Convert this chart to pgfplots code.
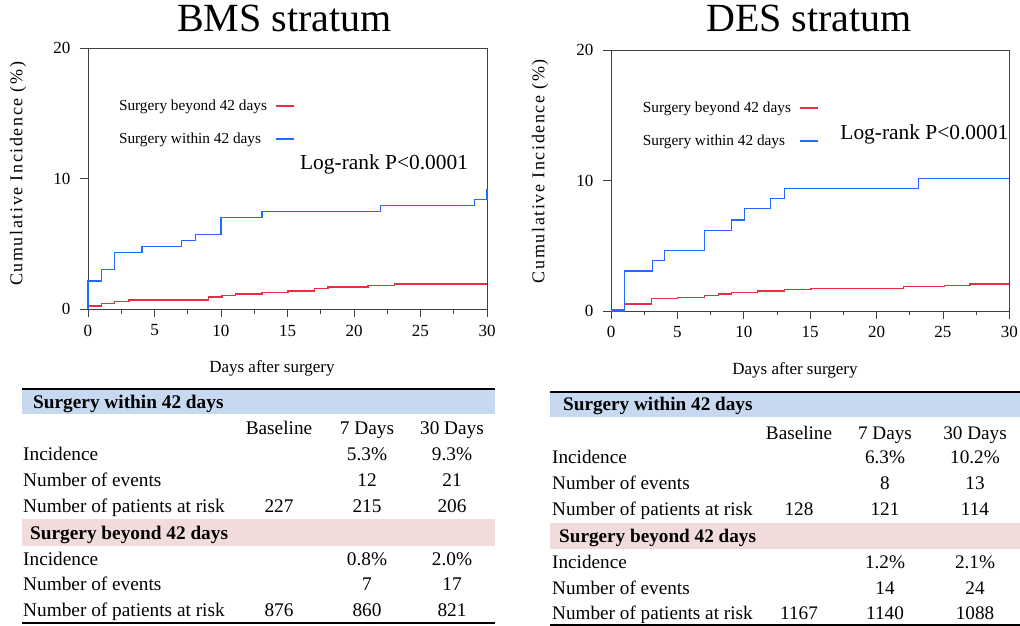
\documentclass[border=0pt]{standalone}
\usepackage{pgfplots}
\pgfplotsset{compat=1.18}
\usepackage{fontspec}
\setmainfont{Liberation Serif}
\definecolor{kmred}{RGB}{235,45,65}
\definecolor{kmblue}{RGB}{35,105,255}
\definecolor{bandblue}{RGB}{198,217,240}
\definecolor{bandpink}{RGB}{242,220,219}
\newcommand{\fs}[1]{\fontsize{#1}{#1}\selectfont}
\pgfplotsset{
  kmaxis/.style={
    scale only axis, xmin=0, xmax=30, ymin=0, ymax=20,
    xtick={0,5,...,30}, ytick={0,10,20}, minor xtick={2.5,7.5,...,27.5},
    tick pos=left, tick align=outside,
    major tick length=8pt, minor tick length=4.5pt,
    axis line style={black!75, line width=0.8pt},
    every tick/.append style={black!75, line width=0.8pt},
    tick label style={font=\fs{17}},
    yticklabel style={xshift=-6pt},
    xticklabel style={yshift=-4pt},
    /pgf/number format/assume math mode=true,
    label style={font=\fs{17}},
    title style={font=\fs{40}, anchor=base},
    clip=false,
    legend plot pos=right,
    legend cell align=left,
    legend style={draw=none, fill=none, inner sep=0pt, outer sep=0pt, font=\fs{15.3}, row sep=20.5pt, column sep=8pt, nodes={inner sep=0pt}, anchor=north west},
    legend image code/.code={\draw[#1] (0pt,0pt) -- (18pt,0pt);},
  },
  kmline/.style={line width=1.2pt, const plot mark left, mark=none},
}
\begin{document}
\begin{tikzpicture}[x=1pt,y=1pt]
\useasboundingbox (0,0) rectangle (1020,626);
% ---------------- BMS ----------------
\begin{axis}[kmaxis,
  at={(88pt,316.7pt)}, anchor=south west, width=399pt, height=261.3pt,
  title={BMS stratum}, title style={at={(axis description cs:0.4925,1.042)}},
  xlabel={Days after surgery}, xlabel style={at={(axis description cs:0.461,-0.2426)}, anchor=base},
  ylabel={\addfontfeature{LetterSpace=9}Cumulative Incidence (\%)}, ylabel style={at={(axis description cs:-0.1754,0.518)}, anchor=center, font=\fs{18}},
  legend style={at={(axis description cs:0.0777,0.801)}},
]
\addlegendimage{color=kmred, line width=1.8pt}
\addlegendentry{Surgery beyond 42 days}
\addlegendimage{color=kmblue, line width=1.8pt}
\addlegendentry{Surgery within 42 days}
\addplot[kmline, color=kmred, forget plot] coordinates {(0,0) (0,0.25) (1,0.46) (2,0.58) (3.08,0.71) (9.07,0.94) (10.07,1.07) (11.08,1.17) (13.08,1.30) (15.04,1.40) (17.04,1.61) (18.05,1.71) (21.05,1.81) (23.06,1.94) (30,1.94)};
\addplot[kmline, color=kmblue, forget plot] coordinates {(0,0) (0,2.17) (1,3.06) (2,4.37) (4.06,4.80) (7.02,5.26) (8.1,5.72) (10,7.05) (13.08,7.48) (22,7.94) (29.07,8.38) (30,9.22)};
\node[font=\fs{21.4}, anchor=center] at (axis cs:22.26,11.12) {Log-rank P<0.0001};
\end{axis}
% ---------------- DES ----------------
\begin{axis}[kmaxis,
  at={(611pt,315pt)}, anchor=south west, width=398.3pt, height=261pt,
  title={DES stratum}, title style={at={(axis description cs:0.497,1.046)}},
  xlabel={Days after surgery}, xlabel style={at={(axis description cs:0.462,-0.2414)}, anchor=base},
  ylabel={\addfontfeature{LetterSpace=9}Cumulative Incidence (\%)}, ylabel style={at={(axis description cs:-0.178,0.536)}, anchor=center, font=\fs{18}},
  legend style={at={(axis description cs:0.0803,0.80)}},
]
\addlegendimage{color=kmred, line width=1.8pt}
\addlegendentry{Surgery beyond 42 days}
\addlegendimage{color=kmblue, line width=1.8pt}
\addlegendentry{Surgery within 42 days}
\addplot[kmline, color=kmred, forget plot] coordinates {(0,0.13) (1,0.54) (3.06,0.95) (5.02,1.05) (7.03,1.18) (8.08,1.30) (9.09,1.41) (11.02,1.53) (13.08,1.64) (15.06,1.74) (22.02,1.87) (25.1,1.97) (27.04,2.07) (30,2.07)};
\addplot[kmline, color=kmblue, forget plot] coordinates {(0,0) (1,3.07) (3.11,3.86) (4.04,4.63) (7.03,6.19) (9.09,6.98) (10.04,7.85) (12.03,8.62) (13.08,9.41) (23.15,10.18) (30,10.18)};
\node[font=\fs{21.4}, anchor=center] at (axis cs:23.6,13.55) {Log-rank P<0.0001};
\end{axis}
% ---------------- left table ----------------
\begin{scope}[every node/.style={inner sep=0pt, font=\fs{19.3}}]
\fill[bandblue] (22,236.2) rectangle (495,212);
\fill[bandpink] (22,107) rectangle (495,80);
\draw[line width=1.5pt] (22,237) -- (495,237);
\draw[line width=1.6pt] (22,3) -- (495,3);
\node[anchor=base west] at (33,217) {\bfseries Surgery within 42 days};
\node[anchor=base] at (279,191) {Baseline};
\node[anchor=base] at (367,191) {7 Days};
\node[anchor=base] at (452,191) {30 Days};
\node[anchor=base west] at (23,165) {Incidence};
\node[anchor=base] at (367,165) {5.3\%};
\node[anchor=base] at (452,165) {9.3\%};
\node[anchor=base west] at (23,139.3) {Number of events};
\node[anchor=base] at (367,139.3) {12};
\node[anchor=base] at (452,139.3) {21};
\node[anchor=base west] at (23,113.7) {Number of patients at risk};
\node[anchor=base] at (279,113.7) {227};
\node[anchor=base] at (367,113.7) {215};
\node[anchor=base] at (452,113.7) {206};
\node[anchor=base west] at (30,86) {\bfseries Surgery beyond 42 days};
\node[anchor=base west] at (23,60.3) {Incidence};
\node[anchor=base] at (367,60.3) {0.8\%};
\node[anchor=base] at (452,60.3) {2.0\%};
\node[anchor=base west] at (23,35) {Number of events};
\node[anchor=base] at (367,35) {7};
\node[anchor=base] at (452,35) {17};
\node[anchor=base west] at (23,9.3) {Number of patients at risk};
\node[anchor=base] at (279,9.3) {876};
\node[anchor=base] at (367,9.3) {860};
\node[anchor=base] at (452,9.3) {821};
\end{scope}
% ---------------- right table ----------------
\begin{scope}[every node/.style={inner sep=0pt, font=\fs{19.2}}]
\fill[bandblue] (550,233.5) rectangle (1020,209);
\fill[bandpink] (550,103) rectangle (1020,77);
\draw[line width=1.5pt] (550,234) -- (1020,234);
\draw[line width=1.2pt] (550,1) -- (1020,1);
\node[anchor=base west] at (563,215) {\bfseries Surgery within 42 days};
\node[anchor=base] at (799,186.7) {Baseline};
\node[anchor=base] at (885,186.7) {7 Days};
\node[anchor=base] at (975,186.7) {30 Days};
\node[anchor=base west] at (552,162.7) {Incidence};
\node[anchor=base] at (885,162.7) {6.3\%};
\node[anchor=base] at (975,162.7) {10.2\%};
\node[anchor=base west] at (552,136) {Number of events};
\node[anchor=base] at (885,136) {8};
\node[anchor=base] at (975,136) {13};
\node[anchor=base west] at (552,110) {Number of patients at risk};
\node[anchor=base] at (799,110) {128};
\node[anchor=base] at (885,110) {121};
\node[anchor=base] at (975,110) {114};
\node[anchor=base west] at (559,83.7) {\bfseries Surgery beyond 42 days};
\node[anchor=base west] at (552,57.7) {Incidence};
\node[anchor=base] at (885,57.7) {1.2\%};
\node[anchor=base] at (975,57.7) {2.1\%};
\node[anchor=base west] at (552,31.7) {Number of events};
\node[anchor=base] at (885,31.7) {14};
\node[anchor=base] at (975,31.7) {24};
\node[anchor=base west] at (552,6) {Number of patients at risk};
\node[anchor=base] at (799,6) {1167};
\node[anchor=base] at (885,6) {1140};
\node[anchor=base] at (975,6) {1088};
\end{scope}
\end{tikzpicture}
\end{document}
